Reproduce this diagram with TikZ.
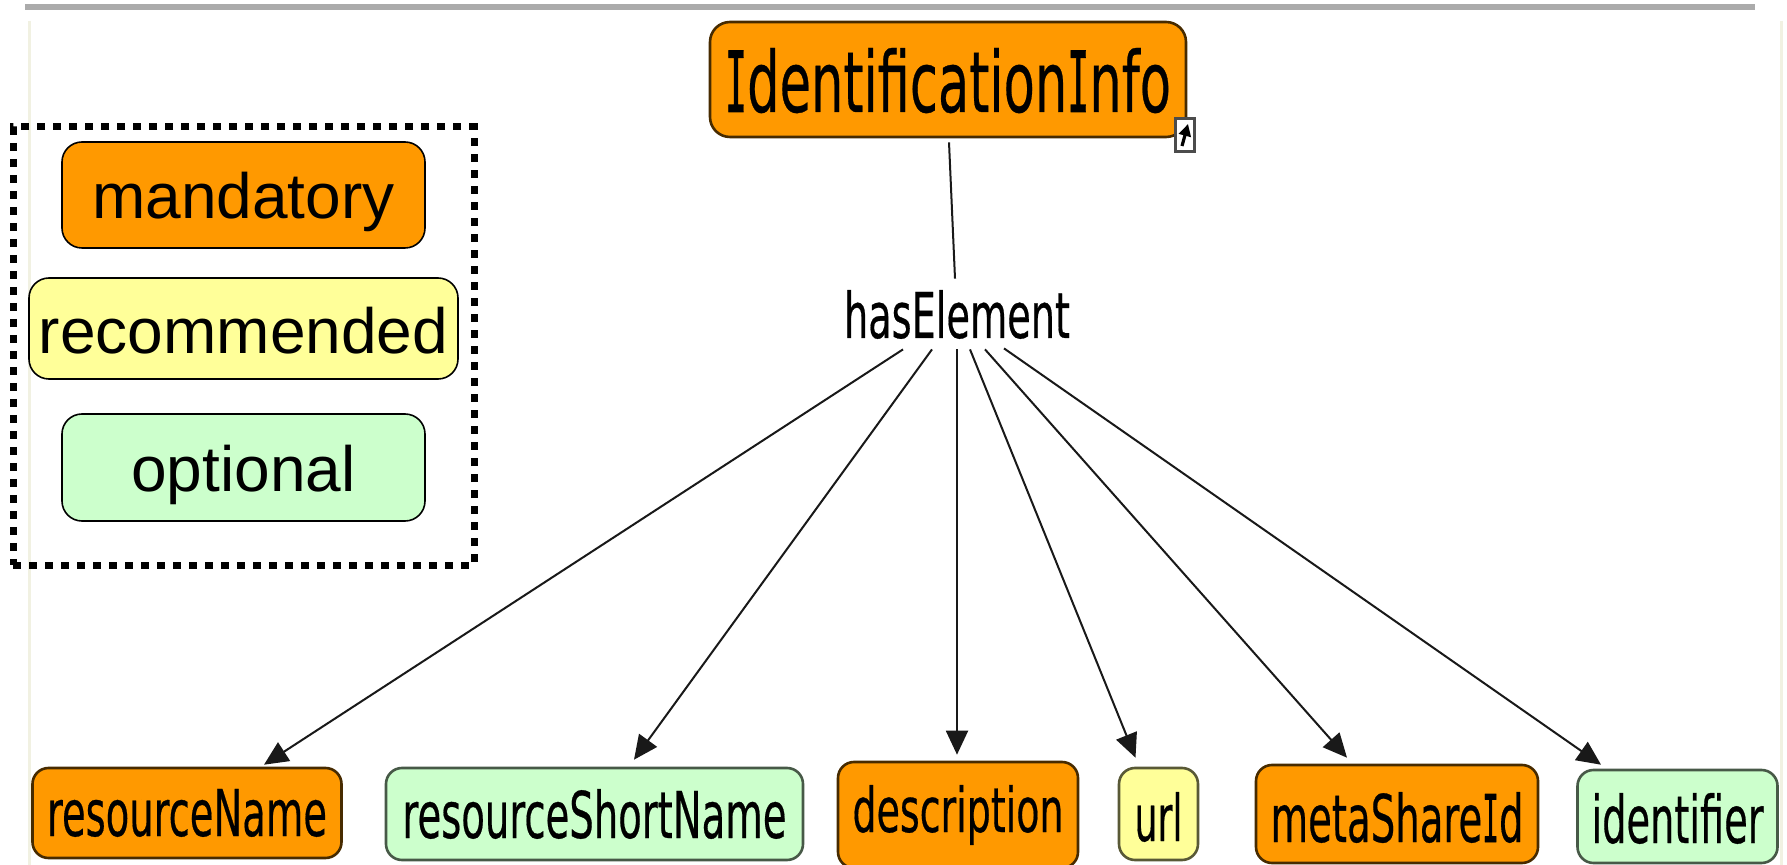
\documentclass[tikz,border=0pt]{standalone}
\usepackage{fontspec}
\usepackage{graphicx}
\setmainfont{Liberation Sans}
\newfontfamily\cmapfont[FakeBold=0.5]{DejaVu Sans}
\newfontfamily\cmapmono[FakeBold=1.2]{DejaVu Sans Mono}
\usetikzlibrary{arrows.meta}
\definecolor{mandfill}{HTML}{FF9900}
\definecolor{recfill}{HTML}{FFFF99}
\definecolor{optfill}{HTML}{CCFFCC}
\definecolor{faintline}{HTML}{F1F1E2}
\newcommand{\fitt}[3]{\resizebox{#1pt}{#2pt}{\cmapfont #3}}
\newcommand{\serI}{\scalebox{0.72}[1]{\cmapmono I}}
\tikzset{
  legbox/.style={draw=black,line width=0.8pt,rounded corners=10pt,inner sep=0pt,align=center,font=\fontsize{32}{34}\selectfont},
  cmbox/.style={draw=#1,line width=1.3pt,rounded corners=8pt,inner sep=0pt,align=center},
  mand/.style={cmbox=black!72!mandfill,fill=mandfill},
  rec/.style={cmbox=black!65!recfill,fill=recfill},
  opt/.style={cmbox=black!65!optfill,fill=optfill},
  conn/.style={draw=black!90,line width=1pt},
  arr/.style={conn,-{Triangle[length=12pt,width=11pt]}}
}
\begin{document}
\begin{tikzpicture}[x=0.5pt,y=-0.5pt]
\useasboundingbox (0,0) rectangle (1787,865);
\fill[white] (0,0) rectangle (1787,865);
\fill[black!33] (25,4) rectangle (1755,10);
\draw[faintline,line width=1.5pt] (29,21) -- (29,865);
\draw[faintline,line width=1.5pt] (1781,21) -- (1781,865);

\node[draw=black,dash pattern=on 4pt off 4pt,line width=3.5pt,minimum width=230.5pt,minimum height=219pt,inner sep=0pt] (legend) at (243.5,346) {};
\node[legbox,fill=mandfill,minimum width=181.5pt,text height=38.5pt,text depth=14.5pt] (lm) at (243.5,195) {mandatory};
\node[legbox,fill=recfill,minimum width=214.5pt,text height=38pt,text depth=12.5pt] (lr) at (243.5,328.5) {recommended};
\node[legbox,fill=optfill,minimum width=181.5pt,text height=39pt,text depth=14.5pt] (lo) at (243.5,467.5) {optional};

\node[mand,rounded corners=10pt,minimum width=238pt,text height=45pt,text depth=12.5pt] (info) at (948,79.5) {\fitt{223}{32}{\serI dentification\serI nfo}};
\node[draw=black!70,fill=white,line width=1.3pt,minimum width=9.5pt,minimum height=16.5pt,inner sep=0pt] (icon) at (1185,135) {};
\draw[black,line width=1.6pt,-{Triangle[length=6pt,width=6pt]}] ([shift={(-3,11)}]icon.center) -- ([shift={(3,-11)}]icon.center);

\node[inner sep=0pt,minimum width=114pt,text height=29.5pt,text depth=5.5pt] (has) at (957,314) {\fitt{113}{24}{hasElement}};

\node[mand,minimum width=154.5pt,text height=34pt,text depth=11pt] (n1) at (187,813) {\fitt{140}{23.5}{resourceName}};
\node[opt,minimum width=208.5pt,text height=35pt,text depth=11pt] (n2) at (594.5,814) {\fitt{192}{24.5}{resourceShortName}};
\node[mand,minimum width=120pt,text height=35pt,text depth=18pt] (n3) at (958,815) {\fitt{105.5}{23.5}{description}};
\node[rec,minimum width=39.5pt,text height=36.5pt,text depth=9.5pt] (n4) at (1158.5,814) {\fitt{24}{24.5}{url}};
\node[mand,minimum width=141pt,text height=38.5pt,text depth=10.5pt] (n5) at (1397,814) {\fitt{126.5}{25}{metaShare\serI d}};
\node[opt,minimum width=100pt,text height=36.5pt,text depth=10pt] (n6) at (1677.5,816.5) {\fitt{86}{25}{identifier}};

\draw[conn] ([shift={(1,4)}]info.south) -- ([shift={(-2,0)}]has.north);
\draw[arr] ([shift={(-54,0)}]has.south) -- ([shift={(77,-2)}]n1.north);
\draw[arr] ([shift={(-25,0)}]has.south) -- ([shift={(39.5,-7)}]n2.north);
\draw[arr] (has.south) -- ([shift={(-1,-6)}]n3.north);
\draw[arr] ([shift={(13,0)}]has.south) -- ([shift={(-23,-9)}]n4.north);
\draw[arr] ([shift={(28,0)}]has.south) -- ([shift={(-50,-6)}]n5.north);
\draw[arr] ([shift={(47,-1)}]has.south) -- ([shift={(-76.5,-4)}]n6.north);
\end{tikzpicture}
\end{document}
